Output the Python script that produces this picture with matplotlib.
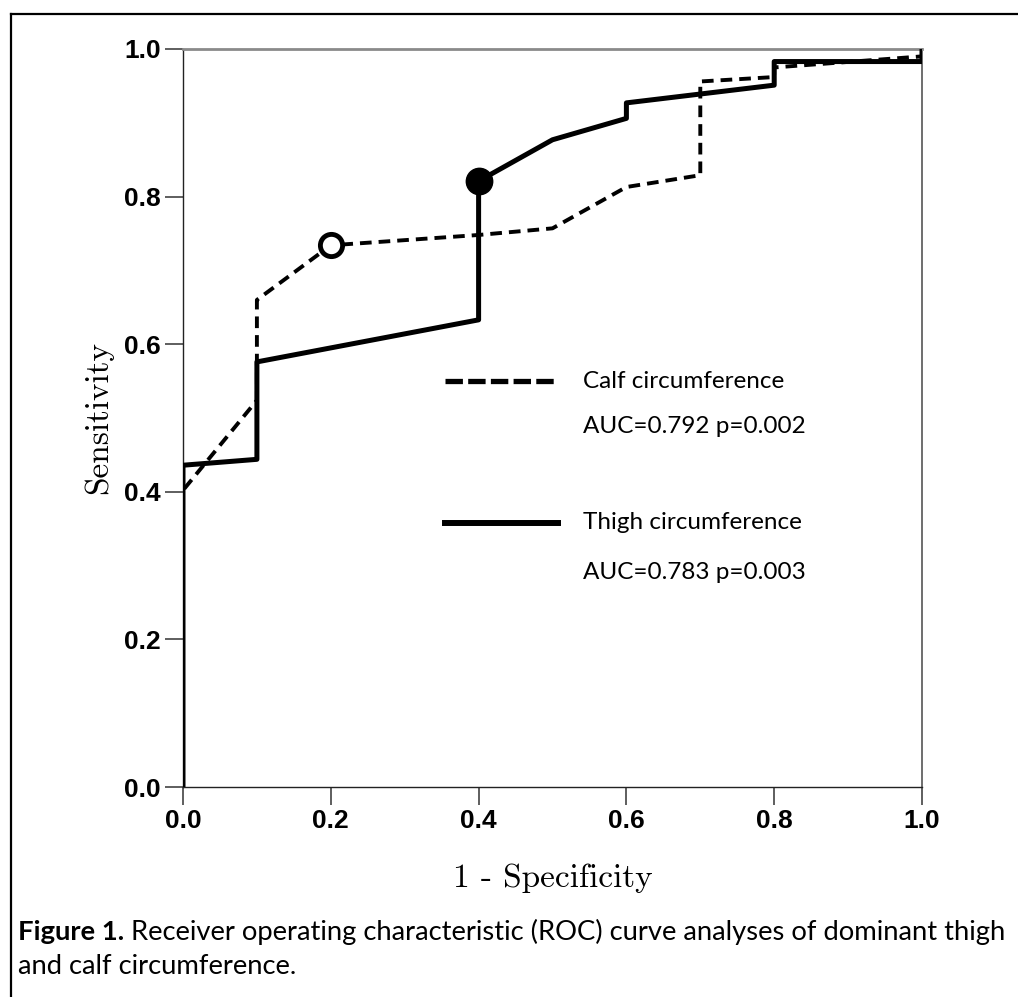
import matplotlib
matplotlib.use("Agg")
import matplotlib.pyplot as plt
from matplotlib.lines import Line2D

# ROC points
thigh_fpr = [0, 0, 0.1, 0.1, 0.4, 0.4, 0.5, 0.6, 0.6, 0.8, 0.8, 1.0, 1.0]
thigh_tpr = [0, 0.436, 0.444, 0.576, 0.633, 0.821, 0.877, 0.906, 0.927, 0.951, 0.983, 0.983, 1.0]
calf_fpr = [0, 0, 0.1, 0.1, 0.2, 0.4, 0.5, 0.6, 0.7, 0.7, 0.8, 0.8, 1.0, 1.0]
calf_tpr = [0, 0.402, 0.524, 0.66, 0.734, 0.748, 0.757, 0.813, 0.829, 0.956, 0.962, 0.975, 0.99, 1.0]
# optimal cut-off points
calf_cut = (0.2, 0.734)
thigh_cut = (0.4, 0.821)

ticks = [0.0, 0.2, 0.4, 0.6, 0.8, 1.0]
tick_labels = ["0.0", "0.2", "0.4", "0.6", "0.8", "1.0"]
legend_names = ["Calf circumference", "Thigh circumference"]
legend_stats = ["AUC=0.792 p=0.002", "AUC=0.783 p=0.003"]
caption_bold = "Figure 1."
caption_rest = " Receiver operating characteristic (ROC) curve analyses of dominant thigh"
caption_line2 = "and calf circumference."

W, H = 1018, 997
fig = plt.figure(figsize=(W / 100, H / 100), dpi=100)
ax = fig.add_axes([183 / W, 1 - 787 / H, (922 - 183) / W, (787 - 49) / H])

ax.plot(calf_fpr, calf_tpr, color="black", lw=2.8, dashes=(3.0, 1.8), zorder=3)
ax.plot(thigh_fpr, thigh_tpr, color="black", lw=3.6, zorder=4)
ax.plot(*calf_cut, "o", ms=16, mfc="white", mec="black", mew=3.5, zorder=5)
ax.plot(*thigh_cut, "o", ms=19, mfc="black", mec="black", zorder=5)

ax.set_xlim(0, 1)
ax.set_ylim(0, 1)
ax.set_xticks(ticks)
ax.set_yticks(ticks)
ax.set_xticklabels(tick_labels, fontfamily="Liberation Sans", fontweight="bold", fontsize=19)
ax.set_yticklabels(tick_labels, fontfamily="Liberation Sans", fontweight="bold", fontsize=19)
ax.tick_params(direction="out", length=13, width=1.1, color="#333333", pad=3)
for s in ("left", "bottom"):
    ax.spines[s].set_color("#222222")
    ax.spines[s].set_linewidth(1.0)
ax.spines["top"].set_color("#8a8a8a")
ax.spines["top"].set_linewidth(2.0)
ax.spines["right"].set_color("#555555")
ax.spines["right"].set_linewidth(1.2)

ax.set_xlabel("1 - Specificity", fontfamily="cmr10", fontsize=24, labelpad=22)
ax.set_ylabel("Sensitivity", fontfamily="cmr10", fontsize=24, labelpad=8)

# hand-drawn legend inside the plot
ax.add_line(Line2D([0.355, 0.508], [0.55, 0.55], transform=ax.transAxes,
                   color="black", lw=3.8, dashes=(3.3, 1.0)))
ax.add_line(Line2D([0.355, 0.508], [0.358, 0.358], transform=ax.transAxes,
                   color="black", lw=4.3))
tx = 0.541
for y, txt in zip([0.55, 0.488, 0.358, 0.291],
                  [legend_names[0], legend_stats[0], legend_names[1], legend_stats[1]]):
    ax.text(tx, y, txt, transform=ax.transAxes, fontfamily="Lato", fontsize=17.5,
            va="center", ha="left")

# caption below
t1 = fig.text(18 / W, 1 - 932 / H, caption_bold, fontfamily="Lato", fontweight="bold",
              fontsize=19.7, va="center", ha="left")
r = fig.canvas.get_renderer()
bb = t1.get_window_extent(renderer=r)
fig.text(bb.x1 / W, 1 - 932 / H, caption_rest, fontfamily="Lato", fontsize=19.7,
         va="center", ha="left")
fig.text(18 / W, 1 - 966 / H, caption_line2, fontfamily="Lato", fontsize=19.7,
         va="center", ha="left")

# outer frame (left and top edges visible in the crop)
fig.add_artist(Line2D([11 / W, 11 / W], [0, 1 - 14 / H], transform=fig.transFigure,
                      color="black", lw=1.6))
fig.add_artist(Line2D([11 / W, 1], [1 - 14 / H, 1 - 14 / H], transform=fig.transFigure,
                      color="black", lw=1.6))

fig.savefig("out.png", dpi=100)
